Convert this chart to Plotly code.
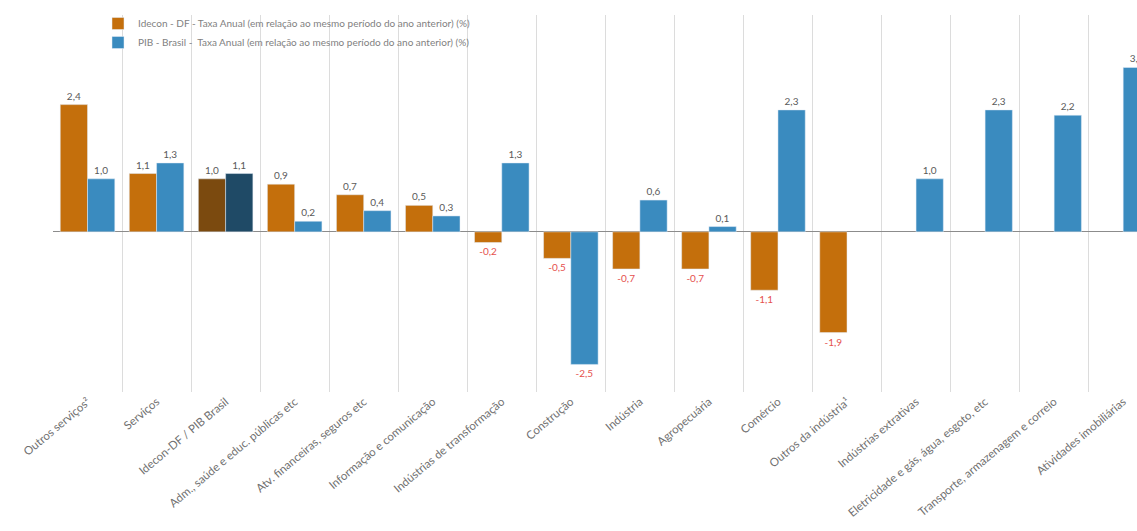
import plotly.graph_objects as go

categories = [
    "Outros serviços²", "Serviços", "Idecon-DF / PIB Brasil",
    "Adm., saúde e educ. públicas etc", "Atv. financeiras, seguros etc",
    "Informação e comunicação", "Indústrias de transformação", "Construção",
    "Indústria", "Agropecuária", "Comércio", "Outros da indústria¹",
    "Indústrias extrativas", "Eletricidade e gás, água, esgoto, etc",
    "Transporte, armazenagem e correio", "Atividades imobiliárias",
]
idecon_df = [2.4, 1.1, 1.0, 0.9, 0.7, 0.5, -0.2, -0.5, -0.7, -0.7, -1.1, -1.9,
             None, None, None, None]
pib_brasil = [1.0, 1.3, 1.1, 0.2, 0.4, 0.3, 1.3, -2.5, 0.6, 0.1, 2.3, None,
              1.0, 2.3, 2.2, 3.1]

name_df = "Idecon - DF - Taxa Anual (em relação ao mesmo período do ano anterior) (%)"
name_br = "PIB - Brasil -  Taxa Anual (em relação ao mesmo período do ano anterior) (%)"

ORANGE, ORANGE_DARK = "#C46F0C", "#7B4A0F"
BLUE, BLUE_DARK = "#3A8BBF", "#1F4A66"
POS_COL, NEG_COL = "#5A5A5A", "#E5514E"


def fmt(v):
    return "" if v is None else f"{v:.1f}".replace(".", ",")


def text_colors(vals):
    return [NEG_COL if (v is not None and v < 0) else POS_COL for v in vals]


xs = list(range(len(categories)))

fig = go.Figure()
fig.add_trace(go.Bar(
    x=xs, y=idecon_df, name=name_df,
    marker_color=[ORANGE_DARK if c == "Idecon-DF / PIB Brasil" else ORANGE for c in categories],
    text=[fmt(v) for v in idecon_df], textposition="outside",
    textfont=dict(size=10, color=text_colors(idecon_df), family="Lato"),
    cliponaxis=False,
))
fig.add_trace(go.Bar(
    x=xs, y=pib_brasil, name=name_br,
    marker_color=[BLUE_DARK if c == "Idecon-DF / PIB Brasil" else BLUE for c in categories],
    text=[fmt(v) for v in pib_brasil], textposition="outside",
    textfont=dict(size=10, color=text_colors(pib_brasil), family="Lato"),
    cliponaxis=False,
))

fig.update_layout(
    width=1137, height=531,
    margin=dict(l=53, r=0, t=15, b=139, autoexpand=False),
    paper_bgcolor="white", plot_bgcolor="white",
    barmode="group", bargap=0.21, bargroupgap=0,
    font=dict(family="Lato", size=9, color="#595959"),
    legend=dict(
        x=98 / 1137, xref="container", y=1 - 9 / 531, yref="container",
        xanchor="left", yanchor="top",
        font=dict(size=10, color="#7F7F7F"),
        bgcolor="rgba(255,255,255,0)", itemwidth=30,
        tracegroupgap=0,
    ),
    showlegend=True,
)
fig.update_xaxes(
    type="linear", automargin=False,
    range=[-0.5, 15.2],
    tickmode="array", tickvals=xs, ticktext=categories,
    tickangle=-40, showgrid=False, zeroline=False,
    tickfont=dict(size=11.5, color="#707070"),
    ticks="", showline=False,
)
# vertical separators between categories via minor grid
fig.update_xaxes(minor=dict(tickmode="array", tickvals=[i - 0.5 for i in range(len(categories) + 1)],
                            showgrid=True, gridcolor="#DCDCDC", gridwidth=1, ticks=""))
fig.update_yaxes(
    range=[-3.02, 4.09], showticklabels=False, showgrid=False, automargin=False,
    zeroline=True, zerolinecolor="#8C8C8C", zerolinewidth=1,
)

fig.write_html(
    "out.html",
    config={"displayModeBar": False},
    post_script="document.body.style.margin='0';document.body.style.overflow='hidden';",
)
